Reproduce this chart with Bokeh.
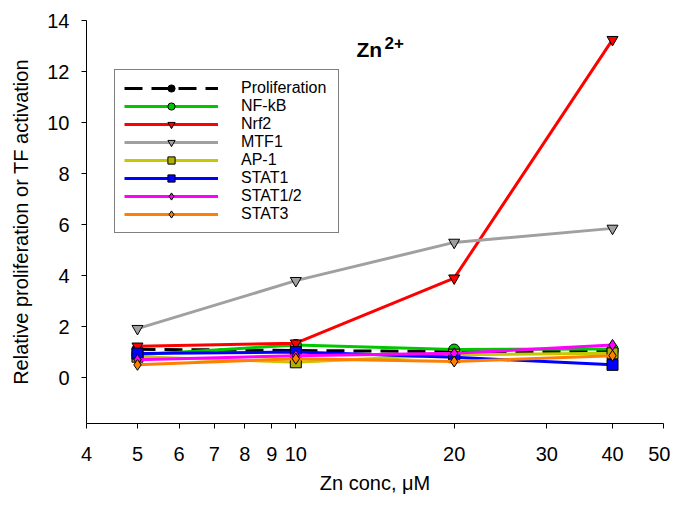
from bokeh.plotting import figure
from bokeh.models import Range1d, FixedTicker, PrintfTickFormatter, Legend, LegendItem, Label
from bokeh.embed import file_html
from bokeh.resources import INLINE

conc = [5, 10, 20, 40]
proliferation = [1.11, 1.06, 1.02, 1.02]
nfkb = [0.90, 1.28, 1.10, 1.12]
nrf2 = [1.23, 1.35, 3.90, 13.25]
mtf1 = [1.92, 3.80, 5.30, 5.85]
ap1 = [0.82, 0.60, 0.90, 0.95]
stat1 = [0.94, 1.00, 0.80, 0.50]
stat12 = [0.70, 0.86, 0.95, 1.28]
stat3 = [0.50, 0.74, 0.63, 0.86]

x_ticks = [4, 5, 6, 7, 8, 9, 10, 20, 30, 40, 50]
y_ticks = [0, 2, 4, 6, 8, 10, 12, 14]

series = [
    ("Proliferation", proliferation, "black", "black", "circle", "18 9"),
    ("NF-kB", nfkb, "#00c800", "#00c800", "circle", "solid"),
    ("Nrf2", nrf2, "#ff0000", "#ff0000", "inverted_triangle", "solid"),
    ("MTF1", mtf1, "#a0a0a0", "#a0a0a0", "inverted_triangle", "solid"),
    ("AP-1", ap1, "#c8c800", "#b0b000", "square", "solid"),
    ("STAT1", stat1, "#0000ff", "#0000ff", "square", "solid"),
    ("STAT1/2", stat12, "#ff00ff", "#ff00ff", "diamond", "solid"),
    ("STAT3", stat3, "#ff8000", "#ff8000", "diamond", "solid"),
]

FONT = "Liberation Sans"

p = figure(width=670, height=500, x_axis_type="log",
           x_range=Range1d(4, 50), y_range=Range1d(-1.8, 14),
           output_backend="svg", toolbar_location=None,
           min_border_left=86, min_border_right=7, min_border_top=20, min_border_bottom=77)
p.outline_line_color = None
p.xgrid.visible = False
p.ygrid.visible = False
p.background_fill_color = "white"

p.xaxis.ticker = FixedTicker(ticks=x_ticks, minor_ticks=[])
p.xaxis.formatter = PrintfTickFormatter(format="%d")
p.yaxis.ticker = FixedTicker(ticks=y_ticks, minor_ticks=[])
for ax in (p.xaxis[0], p.yaxis[0]):
    ax.major_tick_out = 5
    ax.major_tick_in = 0
    ax.minor_tick_out = 0
    ax.minor_tick_in = 0
    ax.axis_line_color = "black"
    ax.major_tick_line_color = "black"
    ax.major_label_text_font = FONT
    ax.major_label_text_font_size = "20px"
    ax.major_label_text_color = "black"
    ax.axis_label_text_font = FONT
    ax.axis_label_text_font_size = "20px"
    ax.axis_label_text_font_style = "normal"
    ax.axis_label_text_color = "black"

p.xaxis.axis_label = "Zn conc, \u03bcM"
p.yaxis.axis_label = "Relative proliferation or TF activation"
p.xaxis.major_label_standoff = 18
p.yaxis.major_label_standoff = 12
p.xaxis.axis_label_standoff = 8
p.yaxis.axis_label_standoff = 12

items = []
for name, vals, lc, fc, marker, dash in series:
    r1 = p.line(conc, vals, line_color=lc, line_width=3, line_dash=dash)
    r2 = p.scatter(conc, vals, marker=marker, size=11, fill_color=fc,
                   line_color="black", line_width=1)
    items.append(LegendItem(label=name, renderers=[r1, r2]))

legend = Legend(items=items, location=(28, 190),
                glyph_width=94, glyph_height=18, label_height=18, label_width=88,
                label_standoff=23, spacing=0, padding=9, margin=0,
                label_text_font=FONT, label_text_font_size="16px",
                label_text_color="black",
                border_line_color="black", border_line_width=1,
                background_fill_color="white", background_fill_alpha=1)
p.add_layout(legend, "center")

t1 = Label(x=270, y=374, x_units="screen", y_units="screen", text="Zn",
           text_font=FONT, text_font_size="21px", text_font_style="bold",
           text_baseline="alphabetic", text_align="left", text_color="black")
t2 = Label(x=298, y=387, x_units="screen", y_units="screen", text="2+",
           text_font=FONT, text_font_size="17px", text_font_style="bold",
           text_baseline="top", text_align="left", text_color="black")
p.add_layout(t1)
p.add_layout(t2)

open("out.html", "w").write(file_html(p, INLINE))
